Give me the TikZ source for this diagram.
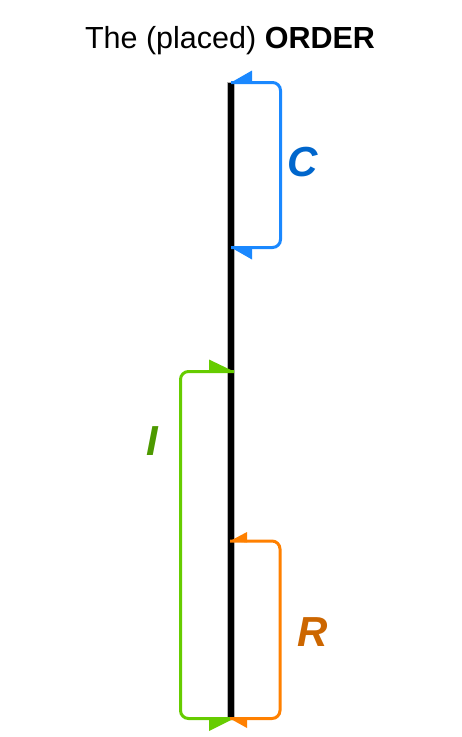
\documentclass[tikz,border=0pt]{standalone}
\usepackage{fontspec}
\setmainfont{Liberation Sans}
\definecolor{cblue}{HTML}{1A88FF}
\definecolor{cbluetxt}{HTML}{0066CC}
\definecolor{cgreen}{HTML}{66CC00}
\definecolor{cgreentxt}{HTML}{4D9900}
\definecolor{corange}{HTML}{FF8000}
\definecolor{corangetxt}{HTML}{CC6600}
\begin{document}
\begin{tikzpicture}[x=1pt,y=-1pt,
  bracket/.style={line width=3pt,rounded corners=8pt},
  lbl/.style={font=\fontsize{42}{42}\selectfont\bfseries\itshape}]
\useasboundingbox (0,0) rectangle (461,737);
% title
\node (title) at (230,41) {\fontsize{30.5}{32}\selectfont The (placed) \textbf{ORDER}};
% bar
\fill[black] (227,82) rectangle (234,719);
\draw[gray!60,line width=0.4pt] (227,82) rectangle (234,719);
\coordinate (ctop) at (231,82.5);
\coordinate (cbot) at (231,247.5);
\coordinate (gtop) at (234,371.5);
\coordinate (gbot) at (234,718.5);
\coordinate (otop) at (230,541);
\coordinate (obot) at (230,718.5);
% C bracket
\draw[bracket,cblue] (ctop) -- (280.5,82.5) -- (280.5,247.5) -- (cbot);
\fill[cblue] (ctop) -- ++(21,-12) -- ++(0,13.5) -- cycle;
\fill[cblue] (cbot) -- ++(21,12) -- ++(0,-13.5) -- cycle;
\node[lbl,text=cbluetxt] (C) at (303,162) {C};
% I bracket
\draw[bracket,cgreen] (gtop) -- (180.5,371.5) -- (180.5,718.5) -- (gbot);
\fill[cgreen] (gtop) -- ++(-25,-12) -- ++(0,13.5) -- cycle;
\fill[cgreen] (gbot) -- ++(-25,12.5) -- ++(0,-14) -- cycle;
\node[lbl,text=cgreentxt] (I) at (152,441) {I};
% R bracket
\draw[bracket,corange] (otop) -- (280,541) -- (280,718.5) -- (obot);
\fill[corange] (otop) -- ++(17,-9) -- ++(0,10.5) -- cycle;
\fill[corange] (obot) -- ++(17,9.5) -- ++(0,-11) -- cycle;
\node[lbl,text=corangetxt] (R) at (313,632) {R};
\end{tikzpicture}
\end{document}
